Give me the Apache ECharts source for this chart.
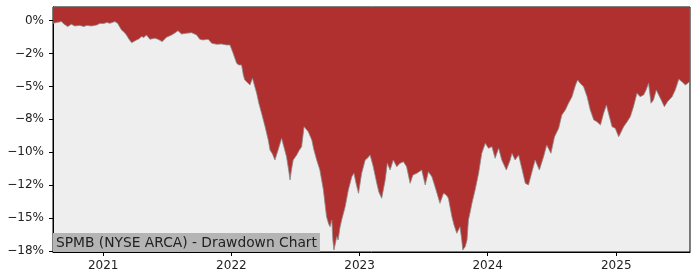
<!DOCTYPE html>
<html>
<head>
<meta charset="utf-8">
<script src="https://cdn.jsdelivr.net/npm/echarts@6/dist/echarts.min.js"></script>
<style>html,body{margin:0;padding:0;background:#fff}#c{width:700px;height:280px}</style>
</head>
<body>
<div id="c"></div>
<script>
const dates = [
'2020-08-11','2020-08-22','2020-09-04','2020-09-11','2020-09-22','2020-10-02','2020-10-12','2020-10-26','2020-11-07','2020-11-15','2020-11-29','2020-12-14','2020-12-22',
'2021-01-03','2021-01-11','2021-01-20','2021-02-03','2021-02-11','2021-02-22','2021-03-01','2021-03-08','2021-03-15','2021-03-23','2021-03-27','2021-04-06','2021-04-12','2021-04-20','2021-04-27','2021-05-04','2021-05-14','2021-05-28','2021-06-06','2021-06-18','2021-06-30','2021-07-15','2021-07-24','2021-08-02','2021-08-12','2021-08-26','2021-09-10','2021-09-24','2021-10-03','2021-10-12','2021-10-17','2021-10-27','2021-11-06','2021-11-20','2021-12-04','2021-12-18','2021-12-28',
'2022-01-06','2022-01-16','2022-01-22','2022-01-30','2022-02-04','2022-02-08','2022-02-17','2022-02-23','2022-03-02','2022-03-14','2022-03-20','2022-03-28','2022-04-07','2022-04-16','2022-04-21','2022-04-28','2022-05-05','2022-05-14','2022-05-24','2022-05-29','2022-06-07','2022-06-13','2022-06-17','2022-06-21','2022-06-26','2022-07-06','2022-07-12','2022-07-20','2022-07-27','2022-08-01','2022-08-08','2022-08-18','2022-08-24','2022-09-01','2022-09-10','2022-09-20','2022-09-25','2022-09-29','2022-10-05','2022-10-09','2022-10-14','2022-10-17','2022-10-20','2022-10-25','2022-10-28','2022-11-01','2022-11-06','2022-11-11','2022-11-21','2022-11-30','2022-12-10','2022-12-16','2022-12-22','2022-12-29',
'2023-01-07','2023-01-17','2023-01-24','2023-01-31','2023-02-09','2023-02-19','2023-02-25','2023-03-05','2023-03-15','2023-03-21','2023-03-29','2023-04-07','2023-04-17','2023-04-26','2023-05-06','2023-05-15','2023-05-25','2023-06-02','2023-06-13','2023-06-27','2023-07-07','2023-07-16','2023-07-26','2023-08-04','2023-08-11','2023-08-18','2023-08-28','2023-09-05','2023-09-11','2023-09-21','2023-09-27','2023-10-05','2023-10-14','2023-10-19','2023-10-22','2023-10-29','2023-11-03','2023-11-07','2023-11-12','2023-11-17','2023-11-26','2023-12-06','2023-12-15','2023-12-25',
'2024-01-03','2024-01-13','2024-01-22','2024-02-01','2024-02-10','2024-02-23','2024-03-05','2024-03-10','2024-03-19','2024-03-29','2024-04-07','2024-04-17','2024-04-26','2024-05-06','2024-05-15','2024-05-27','2024-06-08','2024-06-17','2024-06-29','2024-07-09','2024-07-21','2024-07-30','2024-08-09','2024-08-18','2024-08-28','2024-09-07','2024-09-13','2024-09-20','2024-09-30','2024-10-10','2024-10-19','2024-10-29','2024-11-07','2024-11-17','2024-11-26','2024-12-04','2024-12-10','2024-12-20','2024-12-29',
'2025-01-08','2025-01-13','2025-01-22','2025-02-01','2025-02-10','2025-02-19','2025-03-01','2025-03-10','2025-03-20','2025-03-27','2025-04-03','2025-04-10','2025-04-17','2025-04-25','2025-05-02','2025-05-09','2025-05-18','2025-05-27','2025-06-09','2025-06-18','2025-06-28','2025-07-07','2025-07-17','2025-07-29'
];
const drawdown = [
-0.21,-0.14,-0.08,-0.26,-0.46,-0.28,-0.41,-0.37,-0.45,-0.37,-0.41,-0.33,-0.22,
-0.22,-0.14,-0.21,-0.08,-0.21,-0.71,-0.87,-1.09,-1.40,-1.68,-1.60,-1.47,-1.40,-1.22,-1.28,-1.09,-1.42,-1.34,-1.42,-1.60,-1.27,-1.09,-0.94,-0.77,-1.02,-0.96,-0.92,-1.09,-1.42,-1.47,-1.60,-1.42,-1.72,-1.80,-1.78,-1.85,-1.85,
-2.48,-3.24,-3.37,-3.37,-4.13,-4.51,-4.74,-4.89,-4.38,-5.52,-6.26,-7.04,-8.06,-9.07,-9.83,-10.13,-10.59,-9.83,-8.94,-9.07,-10.34,-11.35,-12.11,-11.35,-10.59,-10.21,-9.90,-9.58,-8.06,-8.16,-8.44,-9.07,-9.83,-10.59,-11.35,-12.87,-14.01,-14.90,-15.45,-15.66,-15.15,-16.67,-17.43,-16.82,-16.41,-16.67,-15.75,-15.15,-14.14,-12.87,-11.86,-11.60,-12.36,-13.12,
-11.60,-10.59,-10.44,-10.21,-11.10,-12.36,-13.02,-13.50,-12.11,-10.84,-11.35,-10.59,-11.10,-10.84,-10.72,-11.10,-12.36,-11.73,-11.60,-11.35,-12.49,-11.48,-11.86,-12.62,-13.25,-13.88,-13.12,-13.25,-13.50,-14.90,-15.53,-16.16,-15.66,-16.67,-17.43,-17.17,-16.67,-15.15,-14.54,-13.88,-12.87,-11.60,-10.08,-9.32,
-9.70,-9.58,-10.46,-9.70,-10.59,-11.35,-10.59,-10.08,-10.59,-10.21,-11.22,-12.36,-12.49,-11.48,-10.59,-11.35,-10.34,-9.45,-10.08,-8.84,-8.18,-7.17,-6.79,-6.28,-5.78,-4.89,-4.51,-4.76,-5.02,-5.78,-6.79,-7.55,-7.68,-7.93,-7.04,-6.41,-7.04,-8.06,-8.18,
-8.82,-8.56,-8.06,-7.68,-7.30,-6.54,-5.52,-5.78,-5.65,-5.27,-4.76,-6.28,-6.03,-5.27,-5.65,-6.03,-6.54,-6.16,-5.78,-5.27,-4.46,-4.64,-4.89,-4.64
];
const xTickYears = [2021, 2022, 2023, 2024, 2025];
const yTickValues = [0, -2.5, -5, -7.5, -10, -12.5, -15, -17.5];
const yTickLabels = ['0%', '\u22122%', '\u22125%', '\u22128%', '\u221210%', '\u221212%', '\u221215%', '\u221218%'];
const chartTitle = 'SPMB (NYSE ARCA) - Drawdown Chart';

const FONT = 'DejaVu Sans';
const toTs = s => { const p = s.split('-').map(Number); return new Date(p[0], p[1] - 1, p[2]).getTime(); };
const xTicks = xTickYears.map(y => new Date(y, 0, 1).getTime());
const chart = echarts.init(document.getElementById('c'), null, {renderer: 'canvas'});
chart.setOption({
  animation: false,
  backgroundColor: '#ffffff',
  title: {
    text: chartTitle,
    left: 53, top: 233,
    backgroundColor: '#b4b4b4',
    padding: [3, 3, 2, 3],
    textStyle: {fontFamily: FONT, fontSize: 13.8, fontWeight: 'normal', color: '#222', lineHeight: 14}
  },
  grid: {
    left: 53, right: 10, top: 7, bottom: 28,
    show: true, backgroundColor: '#eeeeee', borderColor: '#000', borderWidth: 1
  },
  xAxis: {
    type: 'value',
    min: toTs('2020-08-11'),
    max: toTs('2025-07-30'),
    axisLine: {show: true, onZero: false, lineStyle: {color: '#000', width: 1}},
    axisTick: {show: true, customValues: xTicks, length: 4, lineStyle: {color: '#000'}},
    axisLabel: {
      customValues: xTicks,
      formatter: v => String(new Date(v).getFullYear()),
      fontFamily: FONT, fontSize: 12, color: '#222', margin: 8
    },
    splitLine: {show: false}
  },
  yAxis: {
    type: 'value',
    min: -17.58, max: 1.03,
    axisLine: {show: true, lineStyle: {color: '#000', width: 1}},
    axisTick: {show: true, customValues: yTickValues, length: 4, lineStyle: {color: '#000'}},
    axisLabel: {
      customValues: yTickValues,
      formatter: v => { const i = yTickValues.findIndex(t => Math.abs(t - v) < 1e-6); return i >= 0 ? yTickLabels[i] : ''; },
      fontFamily: FONT, fontSize: 12, color: '#222', margin: 9
    },
    splitLine: {show: false}
  },
  series: [{
    type: 'line',
    data: dates.map((d, i) => [toTs(d), drawdown[i]]),
    showSymbol: false,
    symbol: 'none',
    lineStyle: {color: '#8a8a8a', width: 0.8},
    areaStyle: {color: '#b03030', opacity: 1, origin: 'end'},
    z: 2
  }]
});
</script>
</body>
</html>
